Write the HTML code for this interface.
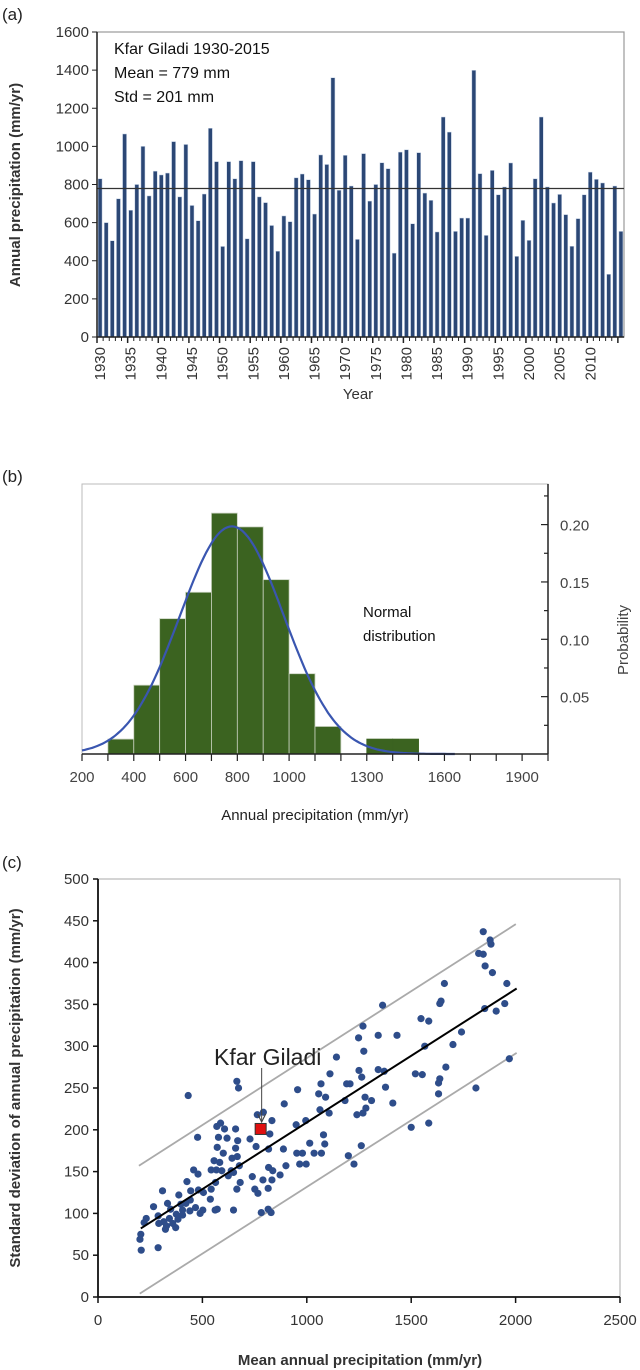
<!DOCTYPE html>
<html><head><meta charset="utf-8"><style>
body{margin:0;background:#fff;}
svg{display:block;font-family:"Liberation Sans",sans-serif;}
</style></head><body>
<svg id="fig" width="640" height="1370" viewBox="0 0 640 1370" xmlns="http://www.w3.org/2000/svg">
<g id="pa"></g>
<g id="pb"></g>
<g id="pc"></g>
</svg>
<script>
const years = [];
for (let y = 1930; y <= 2015; y++) years.push(y);
const precip = [830,600,505,725,1065,665,800,1000,740,870,850,860,1025,735,1010,690,610,750,1095,920,
475,920,830,925,515,920,735,705,585,450,635,605,835,855,825,645,955,905,1360,770,
953,792,512,962,713,800,914,883,440,970,982,594,967,755,717,551,1154,1075,554,624,
624,1399,857,533,874,746,787,913,423,612,507,830,1154,787,703,748,642,476,621,746,
865,827,808,329,792,554];
const meanPrecip = 779;
const yTicksA = [0,200,400,600,800,1000,1200,1400,1600];

const binStarts = [300,400,500,600,700,800,900,1000,1100,1200,1300,1400];
const binProb = [0.013,0.06,0.118,0.141,0.21,0.198,0.152,0.07,0.024,0,0.013,0.013];
const xTickLabelsB = [200,400,600,800,1000,1300,1600,1900];
const yTickLabelsB = [0.05,0.10,0.15,0.20];
const normMean = 779, normStd = 201;

const scatterX = [1845,1823,1845,1878,1882,1854,1889,1958,1948,1907,1852,1659,1643,1637,1547,1584,1741,1700,1565,1666,1520,1553,1637,1631,1631,1500,1584,1970,1810,1363,1342,1432,1269,1248,1273,1342,1371,1377,1412,1250,1263,1142,1111,1191,1207,1183,1279,1310,1283,1269,1240,1261,1199,1226,1068,1057,1090,1063,1107,1080,1086,1070,1035,1014,995,956,949,952,979,966,997,888,900,872,892,833,823,817,817,837,833,815,829,782,790,766,751,739,728,763,792,757,665,673,677,681,665,659,669,659,642,667,638,649,815,649,587,606,569,577,618,571,600,556,583,542,567,593,624,563,542,538,571,561,477,432,458,479,426,444,481,505,442,421,397,467,502,489,440,405,387,333,309,266,348,375,342,315,328,372,323,291,288,231,221,205,201,207,288,383,405,358];
const scatterY = [437,411,410,427,422,396,388,375,351,342,345,375,354,351,333,330,317,302,300,275,267,266,261,256,243,203,208,285,250,349,313,313,324,310,294,272,270,251,232,271,263,287,267,255,255,235,239,235,226,220,218,181,169,159,255,243,239,224,220,194,183,172,172,184,211,248,206,172,172,159,159,177,157,146,231,211,195,177,155,151,140,130,101,101,140,124,129,144,189,218,221,180,258,250,157,137,129,201,187,178,166,168,151,149,105,104,208,201,204,191,190,179,172,163,161,152,152,151,145,137,129,117,105,104,191,241,152,147,138,127,128,125,116,112,111,107,104,100,103,104,122,112,127,108,105,99,94,90,85,83,81,88,97,94,89,75,69,56,59,93,98,88];
const siteX = 779, siteY = 201;
const fitLine = [[205,82],[2005,369]];
const upperLine = [[196,157],[2001,446]];
const lowerLine = [[200,4],[2005,292]];
const xTicksC = [0,500,1000,1500,2000,2500];
const yTicksC = [0,50,100,150,200,250,300,350,400,450,500];

const NS = "http://www.w3.org/2000/svg";
function mk(parent, tag, attrs, text) {
  const e = document.createElementNS(NS, tag);
  for (const k in attrs) e.setAttribute(k, attrs[k]);
  if (text !== undefined) e.textContent = text;
  parent.appendChild(e);
  return e;
}

// ---------- Panel A ----------
(function(){
  const g = document.getElementById('pa');
  const L = 97, R = 624, T = 32, B = 337;
  const band = (R - L) / years.length;
  const xA = i => L + band * (i + 0.5);
  const yA = v => B - v / 1600 * (B - T);
  let e;
  e = mk(g,'text',{x:2,y:20,'font-size':17,fill:'#222'},'(a)');
   
  e = mk(g,'rect',{x:L,y:T,width:R-L,height:B-T,fill:'none',stroke:'#999','stroke-width':1.2});
   
  precip.forEach((v,i)=>{
    const r = mk(g,'rect',{x:xA(i)-2,y:yA(v),width:4,height:B-yA(v),fill:'#2b4775',stroke:'#c6d3e6','stroke-width':0.5});
    
    
  });
  e = mk(g,'line',{x1:L,x2:R,y1:yA(meanPrecip),y2:yA(meanPrecip),stroke:'#333','stroke-width':1.2});
   
  e = mk(g,'line',{x1:L,x2:L,y1:T,y2:B,stroke:'#222','stroke-width':1.5});
   
  e = mk(g,'line',{x1:L,x2:R,y1:B,y2:B,stroke:'#222','stroke-width':1.5});
   
  yTicksA.forEach(t=>{
    const y = yA(t);
    mk(g,'line',{x1:L-5,x2:L,y1:y,y2:y,stroke:'#222'});
    const tx = mk(g,'text',{x:L-8,y:y+5,'font-size':15,'text-anchor':'end',fill:'#333'},t);
     
  });
  years.forEach((yr,i)=>{
    mk(g,'line',{x1:L+band*i,x2:L+band*i,y1:B,y2:B+(yr%5===0?6:4),stroke:'#222','stroke-width':yr%5===0?1.5:1});
    if (yr%5===0 && yr<=2010) {
      const x = xA(i);
      const tx = mk(g,'text',{x:x+5,y:B+10,'font-size':15,'text-anchor':'end',fill:'#333',transform:`rotate(-90 ${x+5} ${B+10})`},yr);
       
    }
  });
  e = mk(g,'text',{x:358,y:399,'font-size':15,'text-anchor':'middle',fill:'#333'},'Year');
   
  e = mk(g,'text',{x:20,y:185,'font-size':15,'font-weight':'bold','text-anchor':'middle',fill:'#333',transform:'rotate(-90 20 185)'},'Annual precipitation (mm/yr)');
   
  ['Kfar Giladi 1930-2015','Mean = 779 mm','Std = 201 mm'].forEach((s,i)=>{
    const tx = mk(g,'text',{x:114,y:54+i*24,'font-size':16,fill:'#111'},s);
     
  });
})();

// ---------- Panel B ----------
(function(){
  const g = document.getElementById('pb');
  const L = 82, R = 548, T = 484, B = 754;
  const xB = v => L + (v - 200) / 1800 * (R - L);
  const yB = p => B - p * 1147;
  let e;
  e = mk(g,'text',{x:2,y:482,'font-size':17,fill:'#222'},'(b)');
   
  e = mk(g,'rect',{x:L,y:T,width:R-L,height:B-T,fill:'none',stroke:'#bbb','stroke-width':1});
   
  binStarts.forEach((s,i)=>{
    if (binProb[i] <= 0) return;
    const r = mk(g,'rect',{x:xB(s),y:yB(binProb[i]),width:xB(s+100)-xB(s),height:B-yB(binProb[i]),fill:'#3b6320',stroke:(i>=10?'#3b6320':'#c9d2c0'),'stroke-width':0.8});
    
    
  });
  let d = '';
  for (let v = 200; v <= 1640; v += 10) {
    const p = 100 / (normStd * Math.sqrt(2*Math.PI)) * Math.exp(-0.5*Math.pow((v-normMean)/normStd,2));
    d += (v===200?'M':'L') + xB(v).toFixed(1) + ' ' + yB(p).toFixed(1) + ' ';
  }
  e = mk(g,'path',{d:d,fill:'none',stroke:'#3a56b0','stroke-width':2.2});
   
  e = mk(g,'line',{x1:L,x2:R,y1:B,y2:B,stroke:'#222','stroke-width':1.5});
   
  e = mk(g,'line',{x1:R,x2:R,y1:T,y2:B,stroke:'#222','stroke-width':1.5});
   
  for (let v = 200; v <= 2000; v += 100) mk(g,'line',{x1:xB(v),x2:xB(v),y1:B,y2:B+7,stroke:'#222','stroke-width':1.2});
  xTickLabelsB.forEach(v=>{
    const tx = mk(g,'text',{x:xB(v),y:B+28,'font-size':15,'text-anchor':'middle',fill:'#444'},v);
     
  });
  for (let p = 0.025; p < 0.236; p += 0.025) {
    const major = Math.abs(p/0.05 - Math.round(p/0.05)) < 0.01;
    mk(g,'line',{x1:R-(major?7:4),x2:R,y1:yB(p),y2:yB(p),stroke:'#222','stroke-width':1.2});
  }
  yTickLabelsB.forEach(p=>{
    const tx = mk(g,'text',{x:R+12,y:yB(p)+6,'font-size':15,fill:'#444'},p.toFixed(2));
     
  });
  e = mk(g,'text',{x:628,y:640,'font-size':15,'text-anchor':'middle',fill:'#444',transform:'rotate(-90 628 640)'},'Probability');
   
  e = mk(g,'text',{x:315,y:820,'font-size':15,'text-anchor':'middle',fill:'#222'},'Annual precipitation (mm/yr)');
   
  e = mk(g,'text',{x:363,y:617,'font-size':15,fill:'#111'},'Normal');
   
  e = mk(g,'text',{x:363,y:641,'font-size':15,fill:'#111'},'distribution');
   
})();

// ---------- Panel C ----------
(function(){
  const g = document.getElementById('pc');
  const L = 98, R = 620, T = 879, B = 1297;
  const xC = v => L + v / 2500 * (R - L);
  const yC = v => B - v / 500 * (B - T);
  let e;
  e = mk(g,'text',{x:2,y:868,'font-size':17,fill:'#222'},'(c)');
   
  e = mk(g,'rect',{x:L,y:T,width:R-L,height:B-T,fill:'none',stroke:'#aaa','stroke-width':1});
   
  [[upperLine,'#aaa','upper-bound-line'],[lowerLine,'#aaa','lower-bound-line']].forEach(([ln,c,n])=>{
    const l = mk(g,'line',{x1:xC(ln[0][0]),y1:yC(ln[0][1]),x2:xC(ln[1][0]),y2:yC(ln[1][1]),stroke:c,'stroke-width':1.8});
     
  });
  scatterX.forEach((x,i)=>{
    const c = mk(g,'circle',{cx:xC(x),cy:yC(scatterY[i]),r:3.6,fill:'#2e4d8a'});
    
    
  });
  e = mk(g,'line',{x1:xC(fitLine[0][0]),y1:yC(fitLine[0][1]),x2:xC(fitLine[1][0]),y2:yC(fitLine[1][1]),stroke:'#000','stroke-width':2});
   
  e = mk(g,'line',{x1:xC(siteX)+1,y1:1068,x2:xC(siteX)+1,y2:yC(siteY)-8,stroke:'#444','stroke-width':1});
   
  e = mk(g,'path',{d:`M${xC(siteX)-3} ${yC(siteY)-15} L${xC(siteX)+1} ${yC(siteY)-7} L${xC(siteX)+5} ${yC(siteY)-15}`,fill:'none',stroke:'#444','stroke-width':1.2});
   
  e = mk(g,'rect',{x:xC(siteX)-5.5,y:yC(siteY)-5.5,width:11,height:11,fill:'#e01010',stroke:'#333','stroke-width':1});
   
  e = mk(g,'text',{x:214,y:1065,'font-size':23,fill:'#222'},'Kfar Giladi');
   
  e = mk(g,'line',{x1:L,x2:L,y1:T,y2:B,stroke:'#111','stroke-width':1.8});
   
  e = mk(g,'line',{x1:L,x2:R,y1:B,y2:B,stroke:'#111','stroke-width':1.8});
   
  yTicksC.forEach(t=>{
    mk(g,'line',{x1:L-5,x2:L,y1:yC(t),y2:yC(t),stroke:'#111','stroke-width':1.5});
    const tx = mk(g,'text',{x:L-9,y:yC(t)+5,'font-size':15,'text-anchor':'end',fill:'#333'},t);
     
  });
  xTicksC.forEach(t=>{
    mk(g,'line',{x1:xC(t),x2:xC(t),y1:B,y2:B+6,stroke:'#111','stroke-width':1.5});
    const tx = mk(g,'text',{x:xC(t),y:B+28,'font-size':15,'text-anchor':'middle',fill:'#333'},t);
     
  });
  e = mk(g,'text',{x:360,y:1365,'font-size':15,'font-weight':'bold','text-anchor':'middle',fill:'#333'},'Mean annual precipitation (mm/yr)');
   
  e = mk(g,'text',{x:20,y:1088,'font-size':15,'font-weight':'bold','text-anchor':'middle',fill:'#333',transform:'rotate(-90 20 1088)'},'Standard deviation of annual precipitation (mm/yr)');
   
})();
</script>
</body></html>
